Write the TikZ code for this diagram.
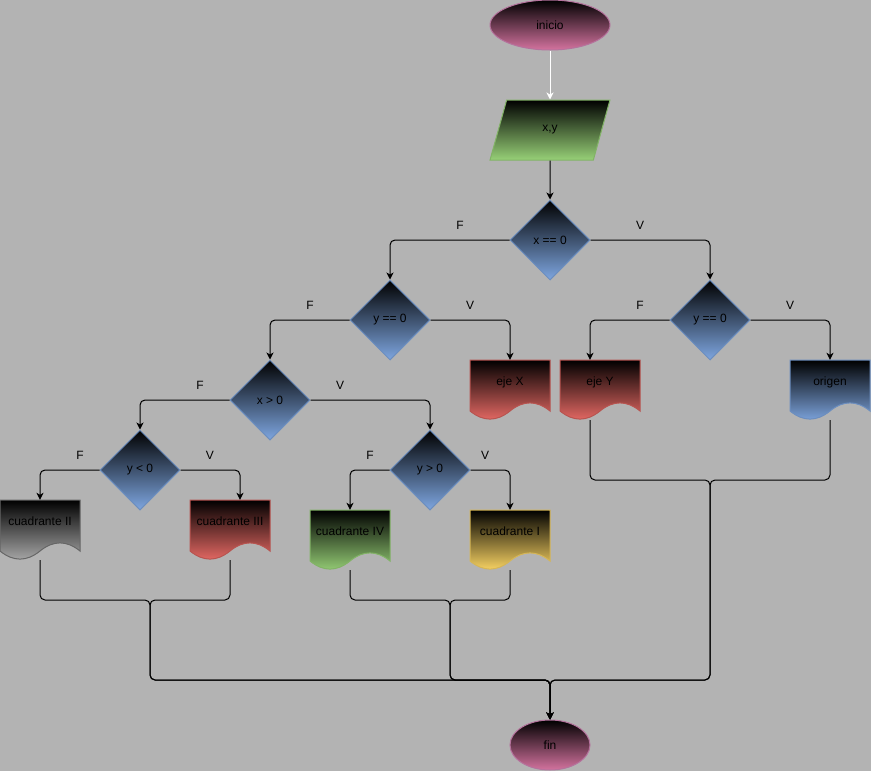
\documentclass[tikz,border=0pt]{standalone}
\usepackage{fontspec}
\setmainfont{Liberation Sans}
\usetikzlibrary{
    shapes.geometric,
    arrows.meta,
    calc,
    positioning
}
\definecolor{bgc}{HTML}{B3B3B3}
\definecolor{pinkf}{HTML}{D4739F}
\definecolor{pinks}{HTML}{B5739D}
\definecolor{greenf}{HTML}{97D077}
\definecolor{greens}{HTML}{82B366}
\definecolor{bluef}{HTML}{7EA6E0}
\definecolor{blues}{HTML}{6C8EBF}
\definecolor{redf}{HTML}{EA6B66}
\definecolor{reds}{HTML}{B85450}
\definecolor{yellowf}{HTML}{FFD966}
\definecolor{yellows}{HTML}{D6B656}
\definecolor{grayf}{HTML}{ABABAB}
\definecolor{grays}{HTML}{666666}

% document box: name, centre, text, fill, stroke
\newcommand{\docnode}[5]{%
    \path[draw=#5, line width=1pt, top color=black, bottom color=#4]
        ($(#2)+(-40,-30)$) -- ($(#2)+(40,-30)$) -- ($(#2)+(40,21)$)
        .. controls ($(#2)+(26.67,10.2)$) and ($(#2)+(13.33,10.2)$) .. ($(#2)+(0,21)$)
        .. controls ($(#2)+(-13.33,31.8)$) and ($(#2)+(-26.67,31.8)$) .. ($(#2)+(-40,21)$)
        -- cycle;
    \node[doc] (#1) at (#2) {#3};%
}

\begin{document}
\begin{tikzpicture}[x=1pt, y=-1pt,
    font=\fontsize{12}{14}\selectfont,
    term/.style={ellipse, inner sep=0, line width=1pt, top color=black, bottom color=pinkf, draw=pinks},
    decision/.style={diamond, aspect=1, inner sep=0, minimum width=80, minimum height=80,
        line width=1pt, top color=black, bottom color=bluef, draw=blues},
    doc/.style={inner sep=0, minimum width=80, minimum height=60, text height=25, text depth=35},
    line/.style={draw, line width=1pt, rounded corners=5, -{Stealth[length=7pt, width=7pt, inset=2pt]}}]
    \fill[bgc] (0, 0) rectangle (871, 771);
    \useasboundingbox (0, 0) rectangle (871, 771);

    \node[term, minimum width=120, minimum height=50] (inicio) at (550, 25) {inicio};
    \node[trapezium, trapezium left angle=71.57, trapezium right angle=108.43, trapezium stretches=true,
        minimum width=120, minimum height=60, inner sep=0, line width=1pt,
        top color=black, bottom color=greenf, draw=greens] (xy) at (550, 130) {x,y};
    \node[decision] (d1) at (550, 240) {x == 0};
    \node[decision] (d2) at (390, 320) {y == 0};
    \node[decision] (d3) at (710, 320) {y == 0};
    \node[decision] (d4) at (270, 400) {x > 0};
    \node[decision] (d5) at (140, 470) {y < 0};
    \node[decision] (d6) at (430, 470) {y > 0};
    \docnode{ejeX}{510, 390}{eje X}{redf}{reds}
    \docnode{ejeY}{600, 390}{eje Y}{redf}{reds}
    \docnode{origen}{830, 390}{origen}{bluef}{blues}
    \docnode{c2}{40, 530}{cuadrante II}{grayf}{grays}
    \docnode{c3}{230, 530}{cuadrante III}{redf}{reds}
    \docnode{c4}{350, 540}{cuadrante IV}{greenf}{greens}
    \docnode{c1}{510, 540}{cuadrante I}{yellowf}{yellows}
    \node[term, minimum width=80, minimum height=50] (fin) at (550, 745) {fin};

    \node (f1) at (460, 225) {F};
    \node (v1) at (640, 225) {V};
    \node (f2) at (310, 305) {F};
    \node (v2) at (470, 305) {V};
    \node (f3) at (640, 305) {F};
    \node (v3) at (790, 305) {V};
    \node (f4) at (200, 385) {F};
    \node (v4) at (340, 385) {V};
    \node (f5) at (80, 455) {F};
    \node (v5) at (210, 455) {V};
    \node (f6) at (370, 455) {F};
    \node (v6) at (485, 455) {V};

    \draw[line, white] (inicio) -- (xy);
    \draw[line] (xy) -- (d1);
    \draw[line] (d1.west) -| (d2.north);
    \draw[line] (d1.east) -| (d3.north);
    \draw[line] (d2.west) -| (d4.north);
    \draw[line] (d2.east) -| (ejeX.north);
    \draw[line] (d3.west) -| ([xshift=-10]ejeY.north);
    \draw[line] (d3.east) -| (origen.north);
    \draw[line] (d4.west) -| (d5.north);
    \draw[line] (d4.east) -| (d6.north);
    \draw[line] (d5.west) -| (c2.north);
    \draw[line] (d5.east) -| ([xshift=10]c3.north);
    \draw[line] (d6.west) -| (c4.north);
    \draw[line] (d6.east) -| (c1.north);

    \coordinate (m1) at (150, 600);
    \coordinate (m2) at (450, 600);
    \coordinate (m3) at (710, 480);
    \coordinate (bus) at (550, 680);
    \draw[line] (c2.south) |- (m1) |- (bus) -- (fin.north);
    \draw[line] (c3.south) |- (m1) |- (bus) -- (fin.north);
    \draw[line] (c4.south) |- (m2) |- (bus) -- (fin.north);
    \draw[line] (c1.south) |- (m2) |- (bus) -- (fin.north);
    \draw[line] ([xshift=-10]ejeY.south) |- (m3) |- (bus) -- (fin.north);
    \draw[line] (origen.south) |- (m3) |- (bus) -- (fin.north);
\end{tikzpicture}
\end{document}
